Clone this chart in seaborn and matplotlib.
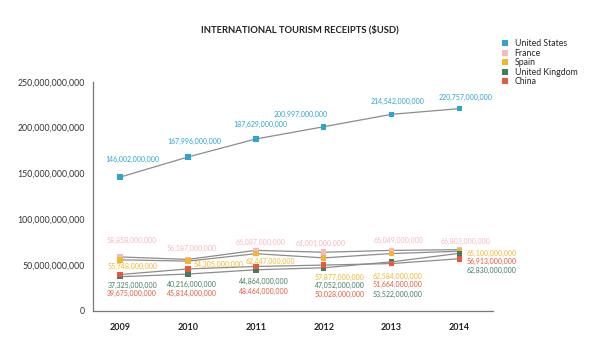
import matplotlib
matplotlib.use("Agg")
import matplotlib.pyplot as plt
import pandas as pd
import seaborn as sns
from matplotlib.ticker import FuncFormatter

years = [2009, 2010, 2011, 2012, 2013, 2014]
countries = ["United States", "France", "Spain", "United Kingdom", "China"]

us = [146002000000, 167996000000, 187629000000, 200997000000, 214542000000, 220757000000]
france = [58858000000, 56187000000, 66087000000, 64001000000, 66049000000, 66803000000]
spain = [55748000000, 54305000000, 62447000000, 57877000000, 62584000000, 65100000000]
uk = [37325000000, 40216000000, 44864000000, 47052000000, 53522000000, 62830000000]
china = [39675000000, 45814000000, 48464000000, 50028000000, 51664000000, 56913000000]

colors = {
    "United States": "#2aa6cf",
    "France": "#f6b9bd",
    "Spain": "#f4b62a",
    "United Kingdom": "#3e7f5f",
    "China": "#ea573e",
}

# label offsets (pixels) from each marker, per country per year
offsets = {
    "United States": [(12, 18), (6, 16), (5, 15), (-23, 12), (6, 13), (6, 11)],
    "France": [(12, 17), (4, 11), (5, 8), (-3, 9), (7, 10), (6, 8)],
    "Spain": [(12, -7), (31, -3), (15, -8), (16, -20), (6, -23), (32, -2)],
    "United Kingdom": [(12, -9), (4, -10), (8, -12), (16, -18), (6, -33), (32, -17)],
    "China": [(12, -19), (4, -25), (8, -25), (16, -29), (6, -21), (32, -3)],
}

series = {"United States": us, "France": france, "Spain": spain,
          "United Kingdom": uk, "China": china}
df = pd.DataFrame([
    {"year": y, "country": c, "value": v}
    for c in countries for y, v in zip(years, series[c])
])

sns.set_theme(style="white")
plt.rcParams["font.family"] = ["Lato", "DejaVu Sans"]

fig, ax = plt.subplots(figsize=(6, 3.59), dpi=100)
fig.subplots_adjust(left=0.155, right=0.822, bottom=0.134, top=0.772)

sns.lineplot(data=df, x="year", y="value", units="country", estimator=None,
             color="#8c8c8c", linewidth=0.9, ax=ax, zorder=1)
sns.scatterplot(data=df, x="year", y="value", hue="country", hue_order=countries,
                palette=colors, marker="s", s=16, linewidth=0, ax=ax, zorder=3)

for c in countries:
    for y, v, (dx, dy) in zip(years, series[c], offsets[c]):
        ax.annotate(f"{v:,}", (y, v), xytext=(dx, dy), textcoords="offset pixels",
                    ha="center", va="center", fontsize=5.0, color=colors[c])

ax.set_xlim(2008.6, 2014.5)
ax.set_ylim(0, 250e9)
ax.set_yticks([0, 50e9, 100e9, 150e9, 200e9, 250e9])
ax.yaxis.set_major_formatter(FuncFormatter(lambda v, p: f"{int(v):,}"))
ax.set_xticks(years)
ax.set_xticklabels([str(y) for y in years], fontweight="bold")
ax.set_xticks([y + 0.5 for y in years], minor=True)
ax.tick_params(axis="x", which="major", length=0, pad=9, labelsize=6.5, labelcolor="#222222")
ax.tick_params(axis="x", which="minor", direction="in", length=6, width=0.9, color="#777777")
ax.tick_params(axis="y", direction="in", length=5, width=0.9, color="#777777",
               labelsize=6.3, labelcolor="#333333", pad=6)
ax.set_xlabel("")
ax.set_ylabel("")
sns.despine(ax=ax)
for side in ["left", "bottom"]:
    ax.spines[side].set_color("#777777")
    ax.spines[side].set_linewidth(0.9)

fig.suptitle("INTERNATIONAL TOURISM RECEIPTS ($USD)", x=0.5, y=0.93,
             fontsize=6.8, fontweight="bold", color="#222222")

handles, labels = ax.get_legend_handles_labels()
ax.legend_.remove()
fig.legend(handles, labels, loc="upper left", bbox_to_anchor=(0.83, 0.9),
           frameon=False, fontsize=6.3, handlelength=0.8, handletextpad=0.7,
           labelspacing=0.05, borderaxespad=0)

fig.savefig("out.png", dpi=100)
